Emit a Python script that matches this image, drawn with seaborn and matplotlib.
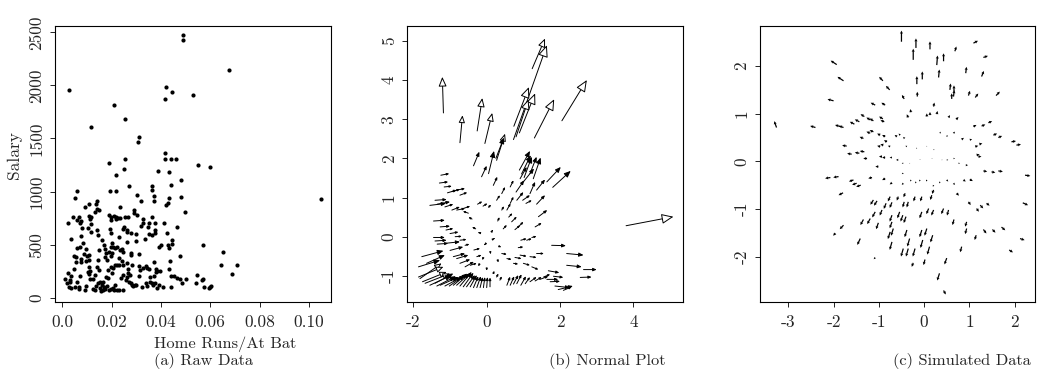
import numpy as np
import matplotlib
matplotlib.use("Agg")
import matplotlib.pyplot as plt
from matplotlib.patches import ArrowStyle
import seaborn as sns
import pandas as pd

# ---------------- data: (a) raw data ----------------
hr_per_ab = [0.0488,0.0491,0.0677,0.0027,0.0420,0.0446,0.0418,0.0528,0.0209,0.0253,
0.0116,0.0311,0.0308,0.0415,0.0418,0.0439,0.0462,0.0254,0.0189,0.0551,
0.0597,0.0251,0.0388,0.0434,0.0218,0.0482,0.0269,0.0365,0.0439,0.0365,
0.0059,0.0195,0.0216,0.0303,0.0373,0.0481,0.0434,0.0050,0.0318,0.0372,
0.0107,0.0091,0.0139,0.0138,0.0420,0.0430,0.0232,0.0496,0.0141,0.0147,
0.0292,0.0289,0.0303,0.0134,0.0328,0.0327,0.0319,0.0066,0.0070,0.0042,
0.0059,0.0076,0.0024,0.0108,0.0116,0.0112,0.0118,0.0191,0.0199,0.0208,
0.0218,0.0227,0.0219,0.0235,0.0253,0.0265,0.0250,0.0247,0.0262,0.0196,
0.0193,0.0081,0.0104,0.0199,0.0264,0.0277,0.0297,0.0365,0.0353,0.0349,
0.0376,0.0374,0.0412,0.0466,0.0074,0.0036,0.0118,0.0139,0.0146,0.0230,
0.0264,0.0299,0.0334,0.0353,0.0364,0.0377,0.0423,0.0428,0.0434,0.0443,
0.0443,0.0393,0.0400,0.0572,0.0477,0.0084,0.0072,0.0097,0.0088,0.0101,
0.0096,0.0109,0.0107,0.0076,0.0076,0.0059,0.0046,0.0055,0.0055,0.0047,
0.0023,0.0036,0.0032,0.0012,0.0018,0.0026,0.0035,0.0031,0.0058,0.0051,
0.0066,0.0069,0.0093,0.0096,0.0104,0.0107,0.0111,0.0109,0.0112,0.0123,
0.0132,0.0147,0.0142,0.0145,0.0149,0.0161,0.0168,0.0173,0.0177,0.0174,
0.0180,0.0162,0.0154,0.0146,0.0136,0.0132,0.0123,0.0153,0.0155,0.0164,
0.0170,0.0174,0.0180,0.0189,0.0197,0.0205,0.0211,0.0220,0.0230,0.0247,
0.0191,0.0196,0.0200,0.0201,0.0197,0.0207,0.0215,0.0220,0.0234,0.0243,
0.0245,0.0231,0.0241,0.0247,0.0245,0.0236,0.0203,0.0207,0.0197,0.0184,
0.0177,0.0166,0.0186,0.0214,0.0222,0.0228,0.0262,0.0265,0.0268,0.0273,
0.0262,0.0258,0.0272,0.0278,0.0281,0.0288,0.0293,0.0297,0.0280,0.0280,
0.0282,0.0309,0.0312,0.0316,0.0328,0.0338,0.0343,0.0353,0.0309,0.0323,
0.0339,0.0342,0.0357,0.0364,0.0368,0.0376,0.0385,0.0391,0.0372,0.0378,
0.0372,0.0381,0.0395,0.0407,0.0434,0.0435,0.0441,0.0453,0.0464,0.0476,
0.0486,0.0503,0.0442,0.0546,0.0542,0.0566,0.0572,0.0574,0.0596,0.0601,
0.0604,0.0651,0.0643,0.0688,0.0709,0.1051,0.0385,0.0354,0.0214,0.0070]
salary = [2475,2425,2145,1957,1982,1935,1872,1906,1812,1680,
1608,1517,1467,1360,1310,1303,1303,1307,1269,1250,
1231,1209,1190,1181,1153,1106,1052,1052,1058,1011,
1002,1002,1002,964,955,949,936,936,908,908,
879,851,908,886,876,892,851,807,839,826,
823,801,782,804,738,700,675,763,707,757,
732,722,700,769,757,738,697,779,760,769,
760,754,738,747,757,757,663,644,638,732,
644,660,656,612,616,612,603,757,704,663,
700,638,700,669,581,550,622,638,590,572,
528,531,550,600,587,606,606,493,468,543,
506,481,496,493,393,512,474,455,411,393,
349,405,358,361,336,465,393,380,333,267,
229,204,166,173,135,97,88,151,151,104,
104,79,75,113,245,223,254,286,179,173,
210,261,292,355,449,543,496,455,418,386,
355,119,148,141,113,72,82,88,66,72,
97,82,110,72,85,91,72,72,72,72,
433,481,512,418,393,481,465,474,449,455,
433,377,349,308,214,182,229,276,286,261,
192,151,182,305,305,305,323,267,236,210,
198,166,151,138,119,113,119,119,402,418,
308,411,301,261,276,301,283,273,204,97,
141,110,151,135,122,141,88,119,204,245,
339,267,248,100,267,349,204,204,185,173,
141,173,97,217,141,166,173,97,88,104,
110,427,305,220,305,927,254,198,119,204]

# ---------------- data: (b) normal plot arrows (tail -> head) ----------------
b_x0 = [1.24,0.73,0.74,0.89,0.80,1.30,2.05,-1.18,-0.73,-0.26,-0.05,0.27,0.25,3.80,
-0.36,-0.14,0.05,0.18,0.41,0.64,0.89,0.95,1.02,1.18,1.27,0.91,1.00,1.64,1.80,0.80,
1.18,1.36,0.82,0.98,1.07,1.36,1.41,0.64,0.55,0.68,0.77,0.86,0.93,1.09,1.23,1.32,
0.27,0.41,-0.25,-0.10,0.05,0.30,-0.40,0.45,-0.30,0.60,-0.50,
-1.25,-1.29,-1.16,-1.07,-0.95,-0.82,-0.73,-1.41,-1.55,-1.35,-1.14,-0.95,-0.82,-0.64,
-1.45,-1.27,-1.11,-1.00,-1.45,-1.41,-1.35,-0.86,-0.73,-0.59,
-1.77,-1.64,-1.86,-1.82,-1.86,-1.75,-1.68,-1.55,-1.41,-1.36,-1.27,-1.14,-1.02,-0.91,
-0.82,-0.73,-0.64,-0.55,-0.45,-0.36,-0.27,-0.18,-0.09,0.00,0.09,
-1.14,-1.00,-0.91,-0.82,-0.73,-0.59,-0.45,-0.27,-0.35,
0.55,0.64,0.73,0.82,0.93,1.05,1.18,1.32,1.45,1.55,1.68,1.82,1.64,1.73,1.86,1.95,2.09,
1.77,2.18,2.18,2.64,2.55,1.36,1.18,0.91,0.77,0.73,1.00,1.23,0.55,0.41,0.86,
0.27,0.36,0.18,
0.20,-0.05,0.10,0.30,-0.10,0.15,-0.20,0.00,-0.20,0.35]
b_y0 = [4.29,2.48,2.82,2.65,2.55,2.52,2.96,3.16,2.40,2.70,2.38,1.95,2.00,0.28,
1.81,1.53,1.61,1.31,1.10,1.27,1.70,1.60,1.51,1.61,1.48,1.48,1.40,1.40,1.26,1.14,
1.10,1.19,0.93,0.93,0.85,0.83,0.51,0.85,0.68,0.38,0.18,0.25,-0.09,-0.09,-0.02,0.25,
0.93,0.68,0.83,0.78,0.75,0.40,0.45,0.20,0.20,0.50,0.60,
1.57,1.37,1.27,1.12,1.15,1.19,1.06,0.93,0.80,0.83,0.76,0.68,0.68,0.72,
0.40,0.25,0.17,0.08,-0.02,-0.11,-0.19,0.00,-0.09,-0.22,
-0.51,-0.68,-0.77,-1.07,-1.03,-1.15,-1.19,-1.24,-1.19,-1.26,-1.24,-1.26,-1.26,-1.24,
-1.24,-1.26,-1.28,-1.28,-1.28,-1.30,-1.30,-1.30,-1.30,-1.30,-1.28,
-0.17,-0.35,-0.51,-0.56,-0.68,-0.77,-0.73,-0.51,-0.34,
-1.24,-1.24,-1.21,-1.20,-1.24,-1.20,-1.15,-1.13,-1.09,-1.03,-0.87,-1.01,-1.09,-1.15,-1.26,-1.35,-1.37,
-0.22,-0.43,-0.73,-0.84,-1.04,-0.43,-0.51,-0.47,-0.53,-0.68,-0.68,-0.77,-0.56,-0.43,-0.28,
-1.03,-1.11,-0.94,
-0.05,-0.20,-0.40,-0.60,-0.55,0.15,0.10,-0.80,-0.70,-0.25]
b_x1 = [1.59,1.64,1.15,1.32,1.14,1.84,2.73,-1.21,-0.66,-0.12,0.15,0.50,0.47,5.09,
-0.20,0.00,0.20,0.29,0.50,0.73,1.18,1.20,1.23,1.36,1.47,1.09,1.29,2.02,2.29,1.02,
1.32,1.59,1.00,1.18,1.23,1.59,1.65,0.73,0.65,0.82,0.91,1.00,1.09,1.23,1.36,1.50,
0.36,0.47,-0.12,0.02,0.12,0.35,-0.50,0.55,-0.40,0.70,-0.65,
-1.02,-1.05,-0.95,-0.82,-0.73,-0.59,-0.53,-1.09,-1.11,-1.00,-0.91,-0.73,-0.59,-0.45,
-1.14,-1.00,-0.91,-0.77,-1.14,-1.09,-1.05,-0.68,-0.55,-0.47,
-1.18,-1.14,-1.27,-1.23,-1.18,-1.09,-1.00,-0.95,-0.91,-0.84,-0.77,-0.68,-0.59,-0.53,
-0.47,-0.41,-0.36,-0.32,-0.27,-0.23,-0.16,-0.11,-0.05,0.02,0.09,
-0.73,-0.64,-0.59,-0.50,-0.45,-0.35,-0.27,-0.14,-0.18,
0.64,0.75,0.86,0.95,1.07,1.18,1.36,1.50,1.68,1.73,1.98,2.09,1.95,2.00,2.27,2.35,2.32,
2.16,2.64,2.59,3.00,2.86,1.56,1.36,1.09,0.95,0.86,1.18,1.41,0.68,0.55,1.00,
0.32,0.41,0.21,
0.22,-0.07,0.11,0.32,-0.12,0.17,-0.24,0.00,-0.23,0.40]
b_y1 = [5.06,4.89,3.82,3.66,3.51,3.51,4.00,4.08,3.10,3.54,3.16,2.63,2.53,0.51,
2.17,1.81,2.19,1.53,1.27,1.44,2.19,2.08,2.04,2.04,2.02,1.78,1.74,1.78,1.68,1.44,
1.40,1.46,1.14,1.06,0.93,1.06,0.68,1.02,0.85,0.51,0.29,0.38,-0.05,-0.05,0.01,0.35,
1.06,0.78,0.90,0.85,0.82,0.50,0.50,0.30,0.25,0.60,0.65,
1.61,1.40,1.29,1.19,1.21,1.23,1.13,0.95,0.85,0.89,0.83,0.76,0.72,0.78,
0.42,0.27,0.21,0.12,-0.02,-0.09,-0.17,0.01,-0.07,-0.19,
-0.36,-0.47,-0.60,-0.68,-0.77,-0.90,-0.94,-0.98,-0.94,-1.01,-1.03,-1.03,-0.98,-0.94,
-0.94,-0.90,-0.92,-0.98,-0.98,-1.01,-1.01,-1.03,-1.03,-1.03,-1.04,
-0.13,-0.26,-0.43,-0.47,-0.58,-0.64,-0.68,-0.47,-0.30,
-1.02,-1.01,-0.98,-0.96,-1.01,-1.03,-1.03,-1.03,-1.01,-0.96,-0.92,-1.04,-1.09,-1.14,-1.30,-1.26,-1.28,
-0.23,-0.47,-0.77,-0.84,-1.03,-0.43,-0.53,-0.50,-0.56,-0.70,-0.73,-0.84,-0.58,-0.45,-0.26,
-0.94,-1.01,-0.87,
-0.04,-0.22,-0.45,-0.66,-0.60,0.18,0.11,-0.87,-0.76,-0.27]

# ---------------- data: (c) simulated data (position + small displacement) ----------------
c_x = [-0.50,-0.18,0.13,0.68,1.09,1.31,-0.24,0.28,0.43,-1.93,-1.78,-0.91,-0.76,-0.16,-0.04,0.32,
0.57,0.66,0.65,0.61,0.92,1.27,0.98,1.13,1.59,-2.00,-0.44,-0.15,0.21,-1.08,-0.86,-3.26,
-2.40,-1.85,-1.78,-1.54,-1.43,-1.32,-1.19,-1.12,-0.91,-0.88,-0.35,-0.29,0.06,0.13,0.28,0.54,
0.71,1.09,1.27,1.42,-1.71,-1.60,-1.43,-1.32,-1.26,-1.34,-1.19,-1.12,-0.97,-0.86,-0.82,-0.97,
-0.90,-0.75,-0.60,-0.53,-0.43,-0.38,-0.16,0.06,0.21,0.35,0.50,0.65,0.83,1.01,1.13,1.22,
1.53,1.64,1.93,2.04,-0.93,-0.86,-0.71,-0.57,-0.46,-0.31,-0.09,0.17,0.39,0.50,0.65,0.76,
0.92,1.16,1.20,-2.07,-1.89,-1.56,-1.49,-1.40,-1.15,-1.01,-0.86,-0.71,-0.46,-0.46,-0.29,-0.18,
-0.09,0.06,0.21,0.35,0.50,0.65,0.87,1.01,1.31,1.49,1.64,2.23,-1.79,-0.75,-0.71,-0.57,
-0.42,-0.44,-0.35,-0.20,-0.05,0.17,0.21,0.72,-1.12,-1.04,-0.84,-1.08,-0.93,-0.71,-0.54,-0.47,
-0.40,-0.05,0.10,0.21,0.43,0.54,0.98,1.16,1.24,1.38,2.18,-1.34,-1.19,-1.01,-0.71,-0.68,
-0.75,-0.38,-0.05,0.06,0.19,0.66,0.94,0.94,1.15,1.31,1.51,1.71,-1.78,-1.96,-1.41,-0.71,
-0.32,-0.46,-0.35,-0.20,-0.03,0.12,0.83,1.88,2.12,-1.08,-0.24,0.02,0.50,0.34,0.43]
c_y = [2.51,2.38,2.35,2.31,2.48,2.18,2.13,2.02,2.10,2.03,1.69,1.69,1.50,1.62,1.72,1.76,
1.50,1.46,1.36,1.31,1.85,1.78,1.38,1.34,1.38,1.27,1.31,1.36,1.15,1.18,1.18,0.71,
0.71,0.73,0.71,0.78,0.83,0.94,0.87,0.85,0.89,0.83,0.92,1.03,0.94,0.97,0.99,0.92,
0.88,0.73,0.74,0.81,0.32,0.15,0.17,0.20,0.06,0.48,0.59,0.62,0.55,0.52,0.41,0.31,
0.34,0.31,0.52,0.55,0.48,0.31,0.27,0.31,0.24,0.59,0.52,0.59,0.46,0.45,0.31,0.36,
0.55,0.50,0.41,0.34,0.10,0.08,0.08,0.03,-0.04,-0.04,0.03,0.06,0.03,0.03,0.06,-0.04,
-0.08,0.13,0.10,-0.34,-0.32,-0.39,-0.46,-0.50,-0.34,-0.11,-0.36,-0.45,-0.25,-0.46,-0.39,-0.43,
-0.39,-0.39,-0.50,-0.43,-0.39,-0.46,-0.39,-0.38,-0.20,-0.22,-0.20,-0.29,-0.66,-0.74,-0.86,-0.74,
-0.67,-0.85,-0.85,-0.74,-0.74,-0.71,-0.60,-0.67,-0.81,-0.83,-0.88,-1.06,-1.02,-1.13,-1.06,-1.13,
-1.16,-1.06,-0.99,-1.02,-0.99,-1.02,-0.85,-0.99,-0.92,-0.88,-0.87,-1.22,-1.20,-1.29,-1.27,-1.41,
-1.48,-1.44,-1.44,-1.41,-1.55,-1.22,-1.27,-1.41,-1.55,-1.43,-1.43,-1.38,-1.34,-1.51,-1.62,-1.69,
-1.62,-1.83,-1.83,-1.83,-1.65,-1.79,-1.79,-1.86,-1.62,-2.02,-2.13,-2.06,-2.03,-2.35,-2.71]
c_dx = [0.00,0.00,0.00,0.02,0.06,0.06,0.00,0.01,0.00,-0.08,-0.08,-0.05,-0.05,0.00,0.00,0.01,
0.01,0.00,0.01,0.00,0.01,0.03,0.02,0.04,0.05,-0.08,-0.03,0.00,0.01,-0.06,-0.05,-0.03,
-0.07,-0.07,-0.06,-0.06,-0.06,-0.05,-0.05,-0.05,-0.05,-0.05,-0.02,-0.01,0.00,0.00,0.01,0.02,
0.03,0.04,0.05,0.05,-0.06,-0.06,-0.06,-0.06,-0.05,-0.05,-0.05,-0.05,-0.04,-0.04,-0.04,-0.04,
-0.04,-0.03,-0.03,-0.02,-0.02,-0.02,-0.01,0.00,0.01,0.01,0.01,0.02,0.03,0.03,0.04,0.04,
0.05,0.05,0.06,0.06,-0.04,-0.04,-0.03,-0.03,-0.02,-0.01,0.00,0.01,0.01,0.02,0.02,0.02,
0.03,0.04,0.04,-0.07,-0.07,-0.06,-0.06,-0.06,-0.05,-0.04,-0.04,-0.03,-0.02,-0.02,-0.01,-0.01,
-0.01,-0.01,-0.01,-0.01,0.02,0.02,0.03,0.04,0.05,0.05,0.06,0.07,-0.06,-0.03,-0.03,-0.02,
-0.02,-0.02,-0.02,-0.02,-0.02,-0.02,-0.02,0.03,-0.04,-0.04,-0.03,-0.04,-0.03,-0.03,-0.03,-0.03,
-0.03,-0.03,-0.03,-0.03,-0.03,-0.02,0.03,0.03,0.04,0.04,0.07,-0.04,-0.04,-0.03,-0.03,-0.03,
-0.03,-0.03,-0.03,-0.03,-0.03,-0.02,-0.02,-0.02,-0.02,0.04,0.04,0.05,-0.05,-0.03,-0.04,-0.03,
-0.03,-0.03,-0.03,-0.03,-0.03,-0.03,-0.02,0.05,0.06,-0.02,-0.02,-0.02,-0.03,-0.03,0.03]
c_dy = [0.14,0.12,0.10,0.06,0.03,0.02,0.14,0.12,0.10,0.05,0.05,0.05,0.05,0.10,0.10,0.10,
0.08,0.08,0.08,0.07,0.08,0.07,0.06,0.05,0.05,0.02,0.05,0.06,0.05,0.03,0.03,0.08,
0.02,0.02,0.02,0.03,0.03,0.03,0.03,0.03,0.03,0.02,0.04,0.04,0.04,0.04,0.04,0.03,
0.03,0.02,0.02,0.02,0.01,0.01,0.01,0.01,0.00,0.02,0.02,0.02,0.02,0.02,0.02,0.01,
0.01,0.01,0.02,0.02,0.02,0.01,0.01,0.01,0.01,0.02,0.02,0.02,0.02,0.01,0.01,0.01,
0.02,0.02,0.01,0.01,0.00,0.00,0.00,0.00,0.00,0.00,0.01,0.00,0.00,0.00,0.00,0.00,
0.00,0.01,0.00,-0.01,-0.01,-0.02,-0.02,-0.02,-0.01,0.00,-0.02,-0.02,-0.01,-0.02,-0.02,-0.02,
-0.02,-0.02,-0.02,-0.02,-0.02,-0.02,-0.02,-0.02,-0.01,-0.01,-0.01,-0.01,-0.03,-0.06,-0.07,-0.05,
-0.05,-0.07,-0.07,-0.06,-0.06,-0.06,-0.05,-0.03,-0.06,-0.06,-0.07,-0.07,-0.07,-0.08,-0.08,-0.08,
-0.08,-0.08,-0.07,-0.07,-0.07,-0.07,-0.04,-0.04,-0.04,-0.03,-0.03,-0.07,-0.07,-0.08,-0.08,-0.09,
-0.09,-0.09,-0.09,-0.09,-0.09,-0.07,-0.06,-0.07,-0.06,-0.05,-0.04,-0.04,-0.05,-0.03,-0.08,-0.10,
-0.10,-0.10,-0.10,-0.10,-0.10,-0.10,-0.07,-0.03,-0.02,-0.02,-0.05,-0.07,-0.08,-0.09,-0.05]

# tick labels
a_xticks = [0.0, 0.02, 0.04, 0.06, 0.08, 0.10]
a_xticklabels = ["0.0", "0.02", "0.04", "0.06", "0.08", "0.10"]
a_yticks = [0, 500, 1000, 1500, 2000, 2500]
b_xticks = [-2, 0, 2, 4]
b_yticks = [-1, 0, 1, 2, 3, 4, 5]
c_xticks = [-3, -2, -1, 0, 1, 2]
c_yticks = [-2, -1, 0, 1, 2]

# ---------------- style ----------------
sns.set_style("ticks")
plt.rcParams['font.family'] = ['cmr10', 'DejaVu Serif']
plt.rcParams['mathtext.fontset'] = 'cm'
plt.rcParams['axes.unicode_minus'] = False
plt.rcParams['axes.formatter.use_mathtext'] = True
FS = 12.5
FS_CAP = 11.8

W, H = 1045, 369
fig = plt.figure(figsize=(W / 100, H / 100), dpi=100)

def box(l, r, t, b):
    return [l / W, 1 - b / H, (r - l) / W, (b - t) / H]

axA = fig.add_axes(box(55, 331, 26, 302))
axB = fig.add_axes(box(407.3, 683.3, 26, 301.7))
axC = fig.add_axes(box(760, 1035, 26, 301.7))

def style(ax, xt, xtl, yt, ytl):
    ax.set_xticks(xt)
    ax.set_xticklabels(xtl, fontsize=FS)
    ax.set_yticks(yt)
    ax.set_yticklabels(ytl, fontsize=FS, rotation=90, va='center')
    ax.tick_params(direction='out', length=3.6, width=0.6, color='black', pad=5.5)
    ax.tick_params(axis='y', pad=4)
    for s in ax.spines.values():
        s.set_visible(True)
        s.set_linewidth(0.8)
        s.set_color('black')
    ax.set_xlabel('')
    ax.set_ylabel('')

# (a)
dfa = pd.DataFrame({'hr': hr_per_ab, 'salary': salary})
sns.scatterplot(data=dfa, x='hr', y='salary', ax=axA, color='black', s=9,
                linewidth=0, legend=False)
axA.set_xlim(-0.003, 0.109)
axA.set_ylim(-40, 2559)
style(axA, a_xticks, a_xticklabels, a_yticks, [str(v) for v in a_yticks])

# (b)
axB.set_xlim(-2.165, 5.36)
axB.set_ylim(-1.66, 5.38)
style(axB, b_xticks, [str(v) for v in b_xticks], b_yticks, [str(v) for v in b_yticks])
fig.canvas.draw()
for x0, y0, x1, y1 in zip(b_x0, b_y0, b_x1, b_y1):
    p0 = axB.transData.transform((x0, y0))
    p1 = axB.transData.transform((x1, y1))
    L = float(np.hypot(*(p1 - p0)))
    head_px = min(10.0, max(1.5, 0.22 * L))
    ms = head_px * 0.72 / 0.4
    fc = 'white' if head_px > 5.5 else 'black'
    axB.annotate('', xy=(x1, y1), xytext=(x0, y0),
                 arrowprops=dict(arrowstyle=ArrowStyle('-|>', head_length=0.4, head_width=0.17),
                                 mutation_scale=ms, lw=0.7, ec='black', fc=fc,
                                 shrinkA=0, shrinkB=0))

# (c)
axC.set_xlim(-3.625, 2.45)
axC.set_ylim(-2.945, 2.84)
axC.quiver(c_x, c_y, c_dx, c_dy, angles='xy', scale_units='xy', scale=0.6,
           width=0.0045, headwidth=2.5, headlength=2.5, headaxislength=2.2,
           minlength=0.5, color='black')
style(axC, c_xticks, [str(v) for v in c_xticks], c_yticks, [str(v) for v in c_yticks])

# labels and captions
fig.text(14 / W, 1 - 155 / H, 'Salary', rotation=90, ha='center', va='center', fontsize=FS)
fig.text(154 / W, 1 - 347.5 / H, 'Home Runs/At Bat', ha='left', va='baseline', fontsize=FS_CAP)
fig.text(154 / W, 1 - 365 / H, '(a) Raw Data', ha='left', va='baseline', fontsize=FS_CAP)
fig.text(549 / W, 1 - 365 / H, '(b) Normal Plot', ha='left', va='baseline', fontsize=FS_CAP)
fig.text(893 / W, 1 - 365 / H, '(c) Simulated Data', ha='left', va='baseline', fontsize=FS_CAP)

fig.savefig('out.png', dpi=100)
